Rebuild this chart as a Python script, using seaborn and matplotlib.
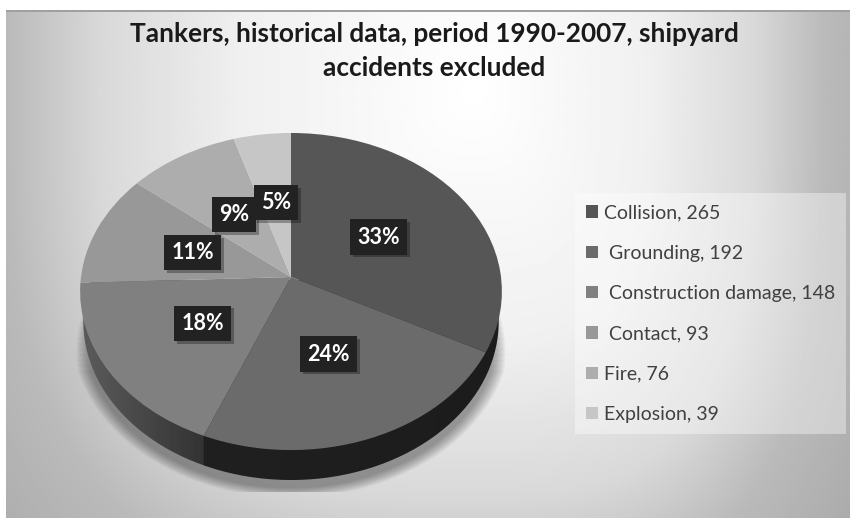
import numpy as np
import matplotlib
matplotlib.use("Agg")
import matplotlib.pyplot as plt
import matplotlib.patheffects as pe
from matplotlib.path import Path
from matplotlib.patches import PathPatch, Rectangle
from matplotlib.transforms import Transform
import seaborn as sns

sns.set_theme(style="white")
plt.rcParams['font.family'] = ['Lato', 'DejaVu Sans']

causes = ["Collision", " Grounding", " Construction damage", " Contact", "Fire", "Explosion"]
accidents = [265, 192, 148, 93, 76, 39]
greys = ["#565656", "#6b6b6b", "#808080", "#989898", "#adadad", "#c6c6c6"]
title = "Tankers, historical data, period 1990-2007, shipyard\naccidents excluded"


# tilted disc, far side is a bit smaller than the near side
class Tilt(Transform):
    input_dims = output_dims = 2

    def transform_non_affine(self, xy):
        xy = np.asarray(xy)
        w = 1 + 0.0915 * xy[:, 1]
        return np.column_stack([291 + 210 * xy[:, 0] / w, 277 - 157.2 * xy[:, 1] / w])

    def transform_path_non_affine(self, path):
        return Path(self.transform_non_affine(path.vertices), path.codes)


fig, ax = plt.subplots(figsize=(8.5, 5.18), dpi=100)
fig.subplots_adjust(0, 0, 1, 1)

wedges, _, pcts = ax.pie(accidents, colors=greys, startangle=90, counterclock=False,
                         autopct="%.0f%%", pctdistance=0.5, radius=1,
                         textprops=dict(color="white", fontsize=15.5, fontweight="bold"))
ax.set_aspect("auto")
ax.axis("on")
ax.set_xticks([])
ax.set_yticks([])
for s in ax.spines.values():
    s.set_visible(False)

# background gradient, brightest above the middle, squarish falloff
yy, xx = np.mgrid[0:530:265j, 0:860:430j]
sx = np.where(xx < 470, 470.0, 350.0)
dist = (np.abs((xx - 470) / sx) ** 3 + np.abs((yy - 80) / 520) ** 3) ** (1 / 3)
bg = np.interp(dist, [0, 0.5, 0.8, 1, 1.5], [1, 0.94, 0.85, 0.73, 0.6])
ax.imshow(bg, cmap="gray", vmin=0, vmax=1, extent=(6, 866, 530, 10), aspect="auto", zorder=0)
ax.add_patch(Rectangle((6, 10), 844, 2, facecolor="#a0a0a0", edgecolor="none", zorder=1))

tilt = Tilt()
for w in wedges:
    w.set_transform(tilt + ax.transData)
    w.set_zorder(4)
    w.set_linewidth(0)
for t in pcts:
    t.set_transform(tilt + ax.transData)
    t.set_zorder(6)
    t.set_bbox(dict(facecolor="#222222", edgecolor="none", boxstyle="square,pad=0.33"))
    t.get_bbox_patch().set_path_effects([pe.withSimplePatchShadow(offset=(2, -2), shadow_rgbFace="black", alpha=0.3)])

# side of the disc, the lower copy of the top ellipse
ang = np.linspace(0, 2 * np.pi, 300)
rim = tilt.transform_non_affine(np.column_stack([np.cos(ang), np.sin(ang)]))
rim = (rim - [291, 291]) * [0.985, 1] + [291, 321]
side = PathPatch(Path(rim), transform=ax.transData, facecolor="none", edgecolor="none")
ax.add_patch(side)
ramp = np.interp(np.linspace(80, 501, 421), [80, 203, 204, 501], [0.36, 0.2, 0.125, 0.11])
im = ax.imshow(ramp[None, :], cmap="gray", vmin=0, vmax=1, extent=(80, 501, 490, 280), aspect="auto", zorder=3)
im.set_clip_path(side)

# soft shadow under the disc, cut flat at the bottom, fades out up the sides
for i in range(14):
    f = i / 13
    sh = (rim - [291, 321]) * [1 + 0.06 * f, 1 + 0.06 * f] + [291, 329]
    sh[:, 1] = np.clip(sh[:, 1], 300 + 70 * f, 492)
    ax.add_patch(PathPatch(Path(sh), facecolor="black", edgecolor="none", alpha=0.028, zorder=2))

ax.set_xlim(0, 850)
ax.set_ylim(518, 0)

ax.text(434, 51, title, ha="center", va="center", fontsize=18.9, fontweight="bold",
        color="#1a1a1a", linespacing=1.49, zorder=7)

labels = [f"{c}, {n}" for c, n in zip(causes, accidents)]
leg = ax.legend(wedges, labels, loc="upper left", bbox_to_anchor=(575 / 850, 1 - 193 / 518),
                fontsize=14, frameon=True, fancybox=False, edgecolor="none", facecolor="white",
                framealpha=0.38, labelspacing=1.2, handlelength=0.6, handleheight=0.6,
                handletextpad=0.3, borderaxespad=0, borderpad=0.58, labelcolor="#404040")
leg.set_zorder(5)

fig.savefig("out.png", dpi=100)
